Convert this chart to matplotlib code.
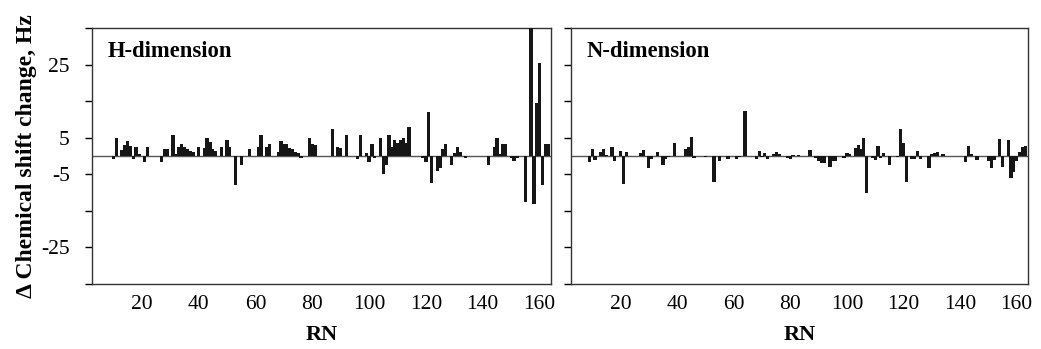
import matplotlib
matplotlib.use('Agg')
from matplotlib import pyplot as plt

plt.rcParams['font.family'] = ['Liberation Serif', 'DejaVu Serif']

# residue number / chemical shift change (Hz)
h_rn = [10, 11, 13, 14, 15, 16, 17, 18, 19, 21, 22, 27, 28, 29, 31, 32, 33, 34, 35,
        36, 37, 38, 40, 42, 43, 44, 45, 46, 48, 50, 51, 53, 55, 58, 61, 62, 64, 65,
        68, 69, 70, 71, 72, 73, 74, 75, 76, 79, 80, 81, 87, 89, 90, 92, 96, 97,
        99, 100, 101, 102, 104, 105, 106, 107, 108, 109, 110, 111, 112, 113, 114,
        119, 120, 121, 122, 124, 125, 126, 127, 129, 130, 131, 132, 134, 142, 144,
        145, 146, 147, 148, 150, 151, 152, 155, 157, 158, 159, 160, 161, 162, 163]
h_shift = [-0.7, 5.0, 1.6, 3.0, 4.1, 2.7, -0.8, 2.6, 0.5, -1.5, 2.5, -1.5, 1.8, 2.0, 5.7, 0.5, 2.5, 3.3, 2.4,
           1.8, 1.4, 1.2, 2.5, 2.3, 5.0, 3.9, 1.8, 1.4, 2.5, 4.3, 2.5, -7.8, -2.4, 1.8, 2.6, 5.7, 2.5, 3.3,
           1.2, 4.1, 3.2, 3.2, 2.3, 1.8, 1.2, 0.7, -0.6, 5.0, 3.2, 3.0, 7.5, 2.5, 2.2, 5.8, -0.7, 5.8,
           0.8, -1.5, 3.2, -0.5, 5.0, -4.9, -2.4, 5.8, 2.5, 4.3, 3.5, 4.3, 5.0, 3.5, 7.9,
           -0.6, -1.5, 12.0, -7.3, -4.1, -3.3, 1.8, 3.4, -2.4, 0.9, 2.5, 1.0, -0.6, -2.4, 2.5,
           5.0, 0.5, 3.4, 3.4, -0.6, -1.3, -0.5, -12.6, 38.0, -13.2, 14.4, 25.5, -7.8, 3.4, 3.4]

n_rn = [9, 10, 11, 13, 14, 15, 17, 18, 20, 21, 22, 27, 28, 30, 31, 33, 35, 36, 37, 39,
        43, 44, 45, 46, 50, 53, 55, 58, 61, 62, 64, 68, 69, 70, 71, 72, 74, 75, 76,
        79, 80, 81, 83, 87, 89, 90, 91, 92, 94, 95, 96, 99, 100, 101, 103, 104, 105,
        106, 107, 109, 110, 111, 112, 113, 115, 118, 119, 120, 121, 123, 124, 125,
        126, 129, 130, 131, 132, 134, 142, 143, 144, 146, 150, 151, 152, 154, 155,
        157, 158, 159, 160, 161, 162, 163]
n_shift = [-1.6, 2.0, -1.2, 1.2, 1.8, 0.4, 2.4, -1.4, 1.5, -7.7, 1.2, 0.9, 1.6, -3.4, -0.7, 1.2, -2.5, -0.9, -0.3, 3.6,
           1.8, 2.5, 5.2, -0.6, -0.3, -7.2, -1.4, -0.9, -0.9, -0.4, 12.4, -0.9, 1.5, -0.4, 0.9, -0.9, 0.5, 1.2, 0.5,
           -0.5, -0.9, 0.4, 0.3, 1.6, -0.5, -1.4, -1.8, -2.0, -3.0, -1.4, -1.4, -0.5, 0.9, 0.5, 2.1, 3.0, 1.8,
           5.0, -10.1, -0.5, -1.2, 2.7, -0.6, 0.9, -2.4, -0.3, 7.4, 3.6, -7.0, -0.9, -0.9, 1.5,
           -0.7, -3.4, 0.5, 0.9, 1.2, 0.5, -1.6, 2.7, 0.5, -1.1, -1.4, -3.2, -1.1, 4.7, -2.9,
           4.3, -5.9, -4.5, -1.4, 1.1, 2.4, 2.8]

x_ticks = [20, 40, 60, 80, 100, 120, 140, 160]
y_ticks = [-35, -25, -15, -5, 5, 15, 25, 35]
y_ticklabels = ['', '-25', '', '-5', '5', '', '25', '']
titles = ['H-dimension', 'N-dimension']

fig = plt.figure(figsize=(10.41, 3.49), dpi=100, facecolor='w')
ax_h = fig.add_axes([0.0884, 0.1862, 0.4409, 0.7335])
ax_n = fig.add_axes([0.5485, 0.1862, 0.4390, 0.7335])

for ax, rn, shift, title in [(ax_h, h_rn, h_shift, titles[0]),
                             (ax_n, n_rn, n_shift, titles[1])]:
    ax.bar(rn, shift, width=1.15, color='#161616', edgecolor='none', zorder=3)
    ax.axhline(0, color='#555555', lw=1.0, zorder=2)
    ax.set_xlim(2.5, 164)
    ax.set_ylim(-35, 35)
    ax.set_xticks(x_ticks)
    ax.set_xticklabels([str(t) for t in x_ticks])
    ax.tick_params(axis='x', length=0, pad=8, labelsize=15.5)
    ax.set_yticks(y_ticks)
    ax.tick_params(axis='y', direction='out', length=5, width=1, labelsize=15.5, pad=11)
    for s in ax.spines.values():
        s.set_color('#333333')
        s.set_linewidth(1.0)
    ax.text(0.033, 0.91, title, transform=ax.transAxes, ha='left', va='center',
            fontsize=16.3, fontweight='bold')
    ax.set_xlabel('RN', fontsize=16, fontweight='bold', labelpad=8)

ax_h.set_yticklabels(y_ticklabels)
ax_n.set_yticklabels([''] * len(y_ticks))
ax_h.set_ylabel('\u0394 Chemical shift change, Hz', fontsize=17, fontweight='bold', labelpad=3)

fig.savefig('out.png', dpi=100)
plt.close(fig)
